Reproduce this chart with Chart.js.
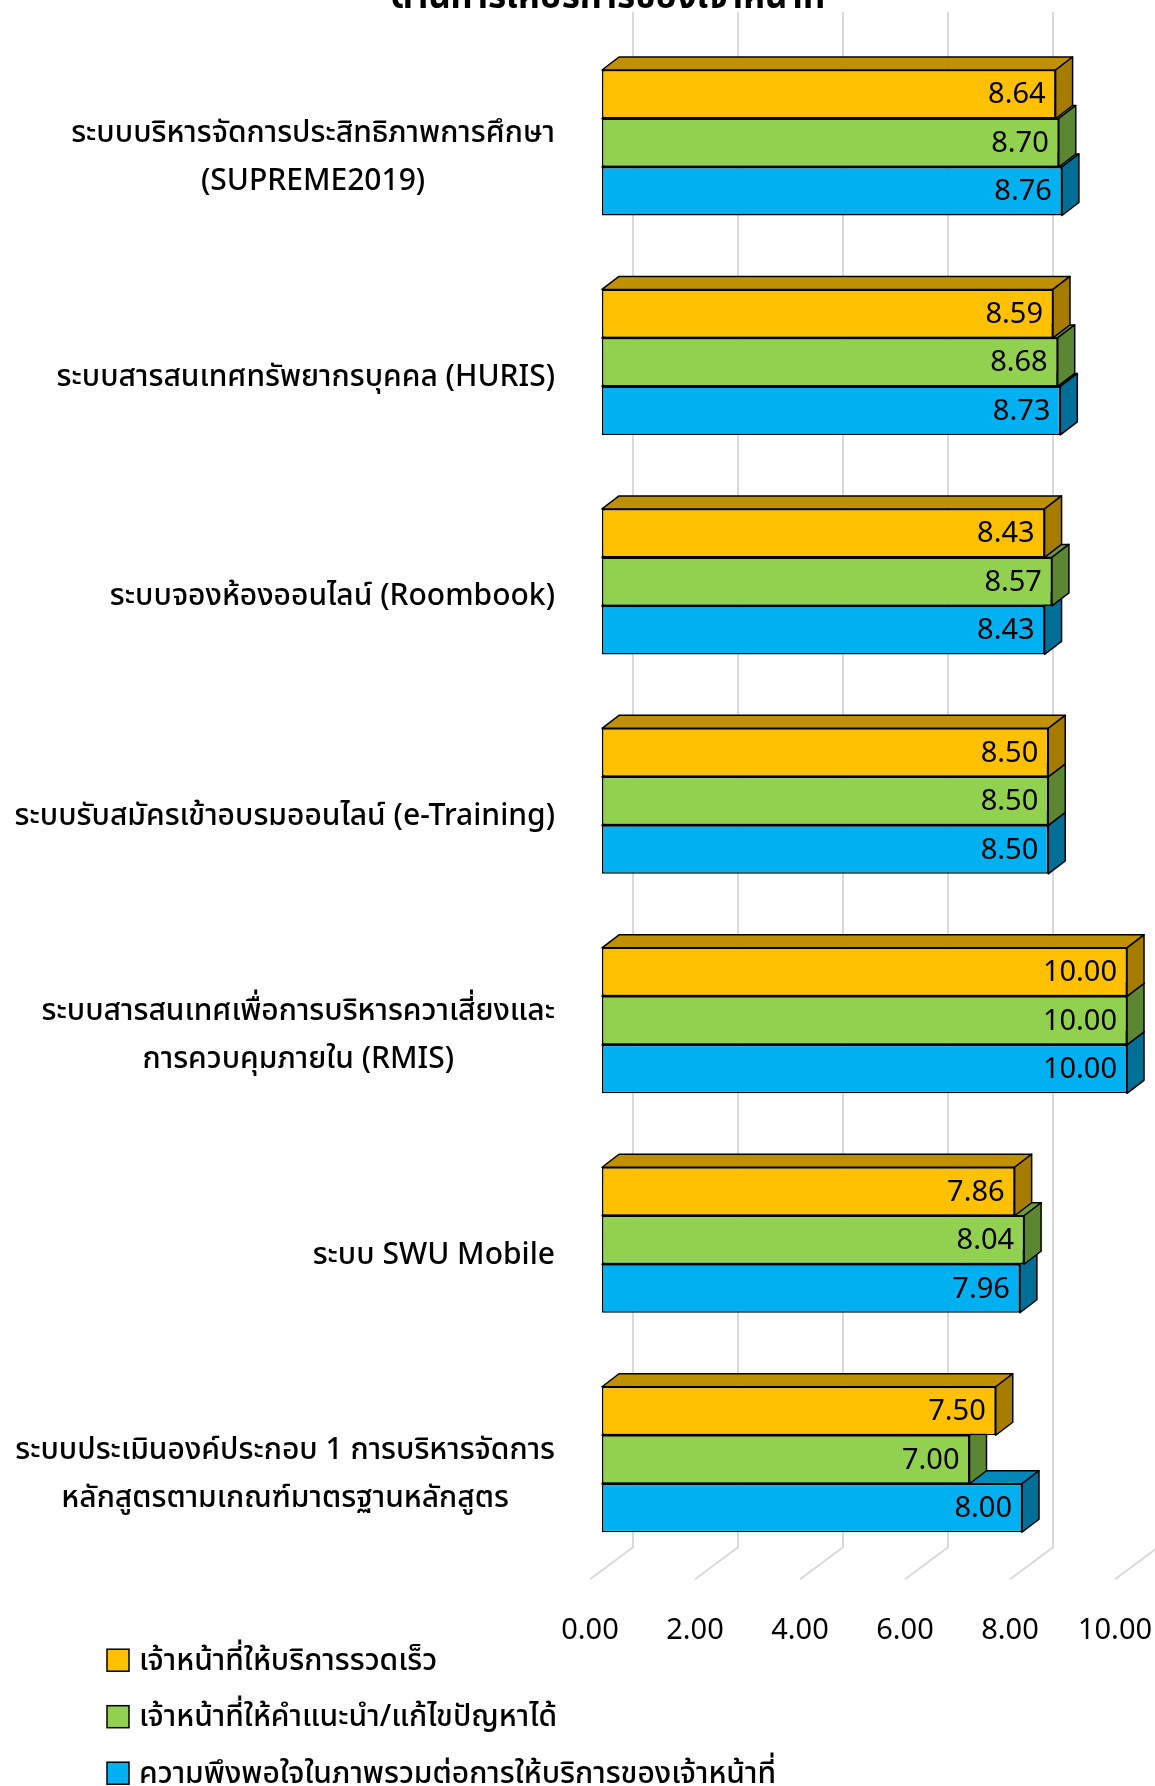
<!DOCTYPE html>
<html>
<head>
<meta charset="utf-8">
<script src="https://cdn.jsdelivr.net/npm/chart.js@4.4.1/dist/chart.umd.min.js"></script>
<style>
  html, body { margin: 0; padding: 0; background: #ffffff; overflow: hidden; }
  #wrap { position: absolute; left: 0; top: -44px; width: 1155px; height: 1830px; }
</style>
</head>
<body>
<div id="wrap"><canvas id="c" width="1155" height="1830"></canvas></div>
<script>
// Systems that were rated
const categories = [
  ["ระบบบริหารจัดการประสิทธิภาพการศึกษา", "(SUPREME2019)"],
  "ระบบสารสนเทศทรัพยากรบุคคล (HURIS)",
  "ระบบจองห้องออนไลน์ (Roombook)",
  "ระบบรับสมัครเข้าอบรมออนไลน์ (e-Training)",
  ["ระบบสารสนเทศเพื่อการบริหารควาเสี่ยงและ", "การควบคุมภายใน (RMIS)"],
  "ระบบ SWU Mobile",
  ["ระบบประเมินองค์ประกอบ 1 การบริหารจัดการ", "หลักสูตรตามเกณฑ์มาตรฐานหลักสูตร"]
];

// Series names
const seriesNames = [
  "เจ้าหน้าที่ให้บริการรวดเร็ว",
  "เจ้าหน้าที่ให้คำแนะนำ/แก้ไขปัญหาได้",
  "ความพึงพอใจในภาพรวมต่อการให้บริการของเจ้าหน้าที่"
];

// Scores (0-10)
const fastService         = [8.64, 8.59, 8.43, 8.50, 10.00, 7.86, 7.50];
const adviceService       = [8.70, 8.68, 8.57, 8.50, 10.00, 8.04, 7.00];
const overallSatisfaction = [8.76, 8.73, 8.43, 8.50, 10.00, 7.96, 8.00];

// Value axis ticks
const xTicks = [0, 2, 4, 6, 8, 10];

const chartTitle = "ด้านการให้บริการของเจ้าหน้าที่";

const FONT = '"Noto Sans", "Noto Sans Thai", Tahoma, sans-serif';

// Face colours: front, top, side
const palette = [
  { front: "#FFC000", top: "#BF9000", side: "#A67C00" },
  { front: "#92D050", top: "#6E9C3C", side: "#5B8732" },
  { front: "#00B0F0", top: "#0088B8", side: "#006F98" }
];

// Extrusion of the boxes
const DX = 17, DY = -13;

const boxes3d = {
  id: "boxes3d",
  beforeDatasetsDraw(chart) {
    // Back wall grid lines that fold onto the floor
    const { ctx, chartArea, scales } = chart;
    const xs = scales.x;
    ctx.save();
    ctx.strokeStyle = "#d9d9d9";
    ctx.lineWidth = 2;
    xTicks.forEach(v => {
      const px = xs.getPixelForValue(v);
      ctx.beginPath();
      ctx.moveTo(px + 31, chartArea.top - 21);
      ctx.lineTo(px + 31, chartArea.bottom - 22);
      ctx.lineTo(px - 12, chartArea.bottom + 10);
      ctx.stroke();
    });
    ctx.restore();
  },
  beforeDatasetDraw(chart, args) {
    // Top and side faces, drawn before the front face of the same series
    const { ctx } = chart;
    const col = palette[args.index];
    ctx.save();
    ctx.strokeStyle = "#000";
    ctx.lineWidth = 1.5;
    ctx.lineJoin = "round";
    args.meta.data.forEach(el => {
      const p = el.getProps(["x", "y", "base", "height"], true);
      const top = p.y - p.height / 2, bottom = p.y + p.height / 2;
      ctx.fillStyle = col.top;
      ctx.beginPath();
      ctx.moveTo(p.base, top);
      ctx.lineTo(p.base + DX, top + DY);
      ctx.lineTo(p.x + DX, top + DY);
      ctx.lineTo(p.x, top);
      ctx.closePath();
      ctx.fill(); ctx.stroke();
      ctx.fillStyle = col.side;
      ctx.beginPath();
      ctx.moveTo(p.x, top);
      ctx.lineTo(p.x + DX, top + DY);
      ctx.lineTo(p.x + DX, bottom + DY);
      ctx.lineTo(p.x, bottom);
      ctx.closePath();
      ctx.fill(); ctx.stroke();
    });
    ctx.restore();
  },
  afterDatasetsDraw(chart) {
    const { ctx, chartArea, scales } = chart;
    ctx.save();
    // Value labels inside the bar ends
    ctx.fillStyle = "#000";
    ctx.font = "29px " + FONT;
    ctx.textAlign = "right";
    ctx.textBaseline = "middle";
    chart.data.datasets.forEach((ds, di) => {
      chart.getDatasetMeta(di).data.forEach((el, i) => {
        const p = el.getProps(["x", "y"], true);
        ctx.fillText(ds.data[i].toFixed(2), p.x - 10, p.y + 1);
      });
    });
    // Category labels: block right-aligned, lines centred within it
    ctx.font = "500 30px " + FONT;
    ctx.textAlign = "center";
    const ys = scales.y;
    const right = chartArea.left - 47;
    const lineH = 48;
    chart.data.labels.forEach((lab, i) => {
      const lines = Array.isArray(lab) ? lab : [lab];
      const w = Math.max(...lines.map(l => ctx.measureText(l).width));
      const cx = right - w / 2;
      const cy = ys.getPixelForValue(i) + 15;
      lines.forEach((l, j) => {
        ctx.fillText(l, cx, cy + (j - (lines.length - 1) / 2) * lineH);
      });
    });
    // Legend, one entry per row
    ctx.textAlign = "left";
    ctx.font = "500 30px " + FONT;
    chart.data.datasets.forEach((ds, di) => {
      const cy = chartArea.bottom + 91 + di * 56.5;
      ctx.fillStyle = ds.backgroundColor;
      ctx.fillRect(107, cy - 11, 22, 22);
      ctx.strokeStyle = "#000";
      ctx.lineWidth = 1.5;
      ctx.strokeRect(107, cy - 11, 22, 22);
      ctx.fillStyle = "#000";
      ctx.fillText(ds.label, 139, cy + 1);
    });
    ctx.restore();
  }
};

new Chart(document.getElementById("c"), {
  type: "bar",
  data: {
    labels: categories,
    datasets: [fastService, adviceService, overallSatisfaction].map((d, i) => ({
      label: seriesNames[i],
      data: d,
      backgroundColor: palette[i].front,
      borderColor: "#000",
      borderWidth: 1.5,
      borderSkipped: false,
      categoryPercentage: 0.663,
      barPercentage: 1.0
    }))
  },
  options: {
    indexAxis: "y",
    responsive: false,
    animation: false,
    devicePixelRatio: 1,
    layout: { padding: { left: 89, right: 28, top: 0, bottom: 94 } },
    plugins: {
      legend: { display: false },
      tooltip: { enabled: false },
      title: {
        display: true,
        text: chartTitle,
        color: "#000",
        font: { family: FONT, size: 35, weight: "bold" },
        padding: { top: 21, bottom: 14 }
      }
    },
    scales: {
      x: {
        min: 0, max: 10,
        afterBuildTicks(scale) { scale.ticks = xTicks.map(v => ({ value: v })); },
        afterFit(scale) { scale.paddingLeft = 0; scale.paddingRight = 0; },
        grid: { display: false, drawTicks: false },
        border: { display: false },
        ticks: {
          color: "#000",
          font: { family: FONT, size: 29 },
          padding: 44,
          labelOffset: -12,
          maxRotation: 0,
          callback: v => Number(v).toFixed(2)
        }
      },
      y: {
        display: true,
        afterFit(scale) { scale.width = 513; },
        grid: { display: false, drawTicks: false },
        border: { display: false },
        ticks: { display: false }
      }
    }
  },
  plugins: [boxes3d]
});
</script>
</body>
</html>
